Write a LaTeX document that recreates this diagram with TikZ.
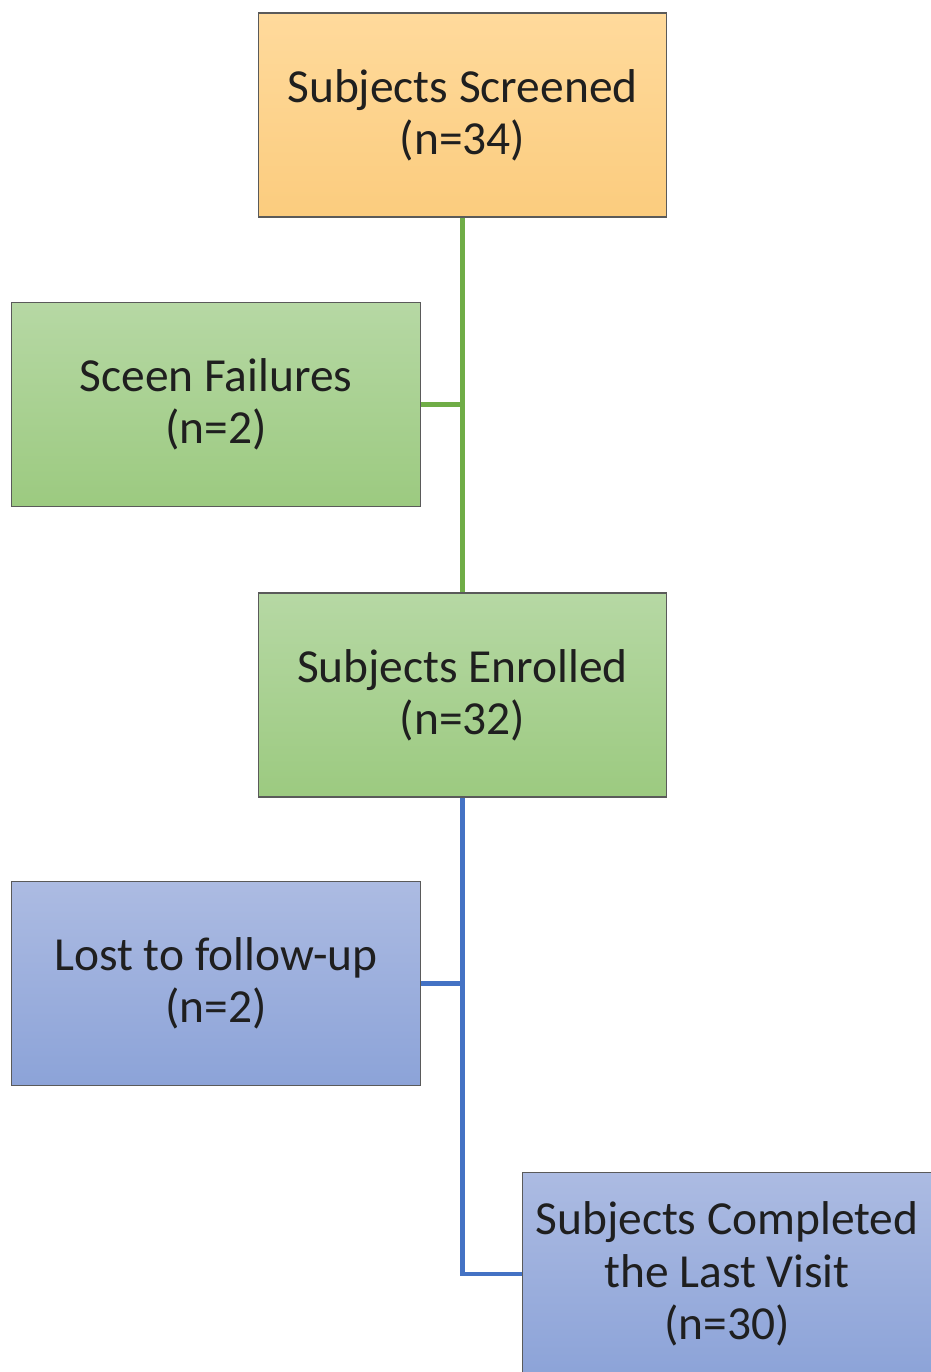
\documentclass[tikz,border=0pt]{standalone}
\usepackage{fontspec}
\setmainfont{Carlito}
\usetikzlibrary{positioning,calc}
\definecolor{orgtop}{RGB}{255,218,156}
\definecolor{orgbot}{RGB}{251,204,126}
\definecolor{grntop}{RGB}{182,216,164}
\definecolor{grnbot}{RGB}{156,202,128}
\definecolor{blutop}{RGB}{172,187,226}
\definecolor{blubot}{RGB}{140,163,216}
\definecolor{grnline}{RGB}{112,173,71}
\definecolor{bluline}{RGB}{68,114,196}
\definecolor{boxedge}{RGB}{90,90,90}
\tikzset{
  stage/.style={rectangle,draw=boxedge,line width=.6pt,minimum width=8.17cm,
                minimum height=4.08cm,inner sep=0pt,align=center,text=black!88,
                font=\fontsize{27}{29.8}\selectfont},
  screen/.style={stage,top color=orgtop,bottom color=orgbot},
  enrol/.style={stage,top color=grntop,bottom color=grnbot},
  follow/.style={stage,top color=blutop,bottom color=blubot},
  glink/.style={draw=grnline,line width=2.4pt},
  blink/.style={draw=bluline,line width=2.4pt},
}
\begin{document}
\begin{tikzpicture}[x=0.02cm,y=-0.02cm]
  \useasboundingbox (0,0) rectangle (930,1372);
  \node[screen] (scr)  at (462.5,115)  {Subjects Screened\\(n=34)};
  \node[enrol]  (fail) at (216,404.5)  {Sceen Failures\\(n=2)};
  \node[enrol]  (enr)  at (462.5,695)  {Subjects Enrolled\\(n=32)};
  \node[follow] (lost) at (216,983.5)  {Lost to follow-up\\(n=2)};
  \node[follow] (done) at (727,1274)   {Subjects Completed\\the Last Visit\\(n=30)};
  \draw[glink] (scr) -- (enr);
  \draw[glink] (fail.east) -- (fail.east -| scr.south);
  \draw[blink] (enr.south) |- (done.west);
  \draw[blink] (lost.east) -- (lost.east -| enr.south);
\end{tikzpicture}
\end{document}
